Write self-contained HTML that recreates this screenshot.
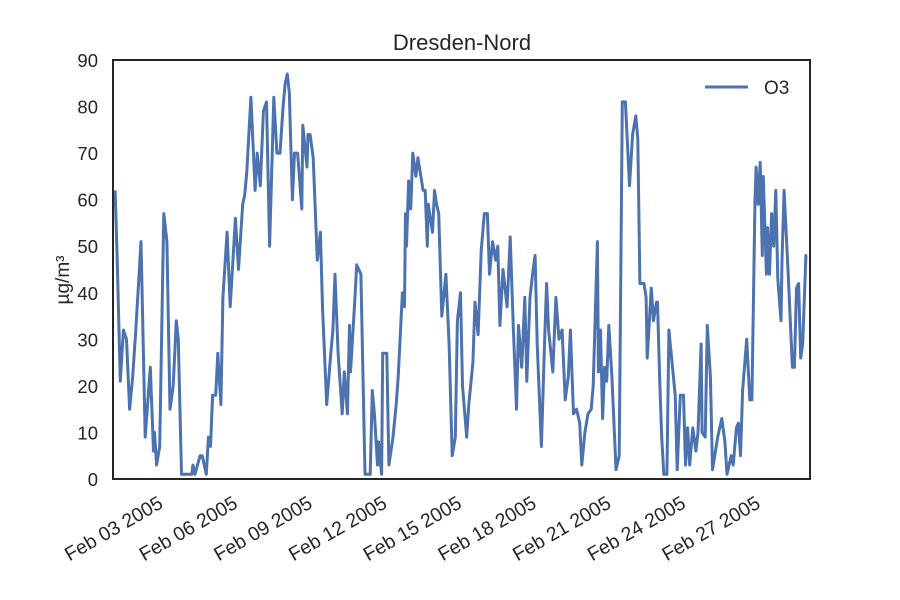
<!DOCTYPE html>
<html><head><meta charset="utf-8"><style>
body{margin:0;background:#fff}
svg{display:block;font-family:"Liberation Sans",sans-serif}
</style></head><body>
<svg id="chart" width="900" height="600" viewBox="0 0 900 600">
<rect width="900" height="600" fill="#fff"/>
<text x="462" y="50" font-size="22" text-anchor="middle" fill="#262626">Dresden-Nord</text>
<text transform="translate(69,280) rotate(-90)" font-size="19" text-anchor="middle" fill="#262626">µg/m³</text>
<g id="yticks"></g><g id="xticks"></g>
<path id="line" fill="none" stroke="#4c72b0" stroke-width="3" stroke-linejoin="round"/>
<rect x="113" y="60" width="697" height="419" fill="none" stroke="#262626" stroke-width="2"/>
<g>
<line x1="705" y1="87" x2="748" y2="87" stroke="#4c72b0" stroke-width="3"/>
<text x="764" y="94" font-size="19" fill="#262626">O3</text>
</g>
</svg>
<script>
const hours=[2,4,7,10,13,16,19,22,27,31,36,39,40,42,45,49,52,55,58,61,63,66,76,77,79,84,86,90,92,94,96,99,101,104,106,110,113,118,121,125,127,129,133,137,139,142,145,148,151,155,158,161,164,166,168,170,173,175,178,182,183,187,188,190,193,197,200,202,206,210,212,214,217,221,223,226,228,229,233,235,239,243,248,250,252,255,256,259,260,264,266,270,273,275,279,281,282,283,285,287,289,292,294,299,301,303,304,308,310,312,314,317,321,324,327,330,332,335,337,341,343,347,349,352,355,358,361,363,366,369,371,373,376,380,383,386,389,391,394,397,399,402,405,407,409,413,416,418,420,424,427,430,433,436,439,441,444,447,450,452,455,458,461,463,467,468,470,472,474,476,478,481,485,488,491,494,498,501,504,506,508,512,514,515,519,521,524,525,527,529,531,534,536,542,544,547,550,552,554,556,559,562,564,567,568,571,573,576,578,583,587,590,592,596,598,601,603,605,607,611,614,616,619,620,622,624,626,627,630,631,633,635,637,639,641,644,645,647,651,655,657,659,661,663,665,668,669,671];
const o3=[62,48,21,32,30,15,22,32,51,9,24,6,10,3,7,57,51,15,20,34,30,1,1,3,1,5,5,1,9,7,18,18,27,16,39,53,37,56,45,59,61,66,82,62,70,63,79,81,50,82,70,70,80,85,87,83,60,70,70,58,76,67,74,74,69,47,53,37,16,27,32,44,27,14,23,14,33,23,38,46,44,1,1,19,14,3,8,1,27,27,3,9,16,22,40,37,57,50,64,58,70,65,69,62,62,50,59,53,62,59,57,35,44,29,5,9,34,40,20,9,16,25,38,31,49,57,57,44,51,47,50,33,45,37,52,32,15,33,24,39,21,39,45,48,29,7,29,42,32,23,39,30,32,17,22,32,14,15,12,3,10,14,15,20,51,23,32,13,24,21,33,22,2,5,81,81,63,74,78,73,42,42,39,26,41,34,38,38,22,9,1,1,32,18,2,18,18,3,11,3,11,6,10,29,10,9,33,22,2,9,13,8,1,5,3,11,12,5,19,30,17,17,60,67,59,68,48,65,44,54,44,57,50,62,43,34,47,62,44,24,24,41,42,26,29,48,48];
const yTicks=[0,10,20,30,40,50,60,70,80,90];
const xTickLabels=["Feb 03 2005","Feb 06 2005","Feb 09 2005","Feb 12 2005","Feb 15 2005","Feb 18 2005","Feb 21 2005","Feb 24 2005","Feb 27 2005"];
const xTickHours=[48,120,192,264,336,408,480,552,624];
const NS="http://www.w3.org/2000/svg";
const X=h=>113+h/672*697, Y=v=>479-v/90*419;
const yg=document.getElementById('yticks');
yTicks.forEach(v=>{const t=document.createElementNS(NS,'text');


t.setAttribute('x',98);t.setAttribute('y',Y(v)+7);t.setAttribute('font-size','18.5');t.setAttribute('text-anchor','end');t.setAttribute('fill','#262626');t.textContent=v;yg.appendChild(t);});
const xg=document.getElementById('xticks');
xTickLabels.forEach((s,i)=>{const t=document.createElementNS(NS,'text');


const x=X(xTickHours[i])-3,y=508;
t.setAttribute('x',x);t.setAttribute('y',y);t.setAttribute('font-size','19.5');t.setAttribute('text-anchor','end');t.setAttribute('fill','#262626');
t.setAttribute('transform',`rotate(-30 ${x} ${y-9})`);t.textContent=s;xg.appendChild(t);});
document.getElementById('line').setAttribute('d',hours.map((h,i)=>(i?'L':'M')+X(h).toFixed(1)+','+Y(o3[i]).toFixed(1)).join(''));
</script>
</body></html>
